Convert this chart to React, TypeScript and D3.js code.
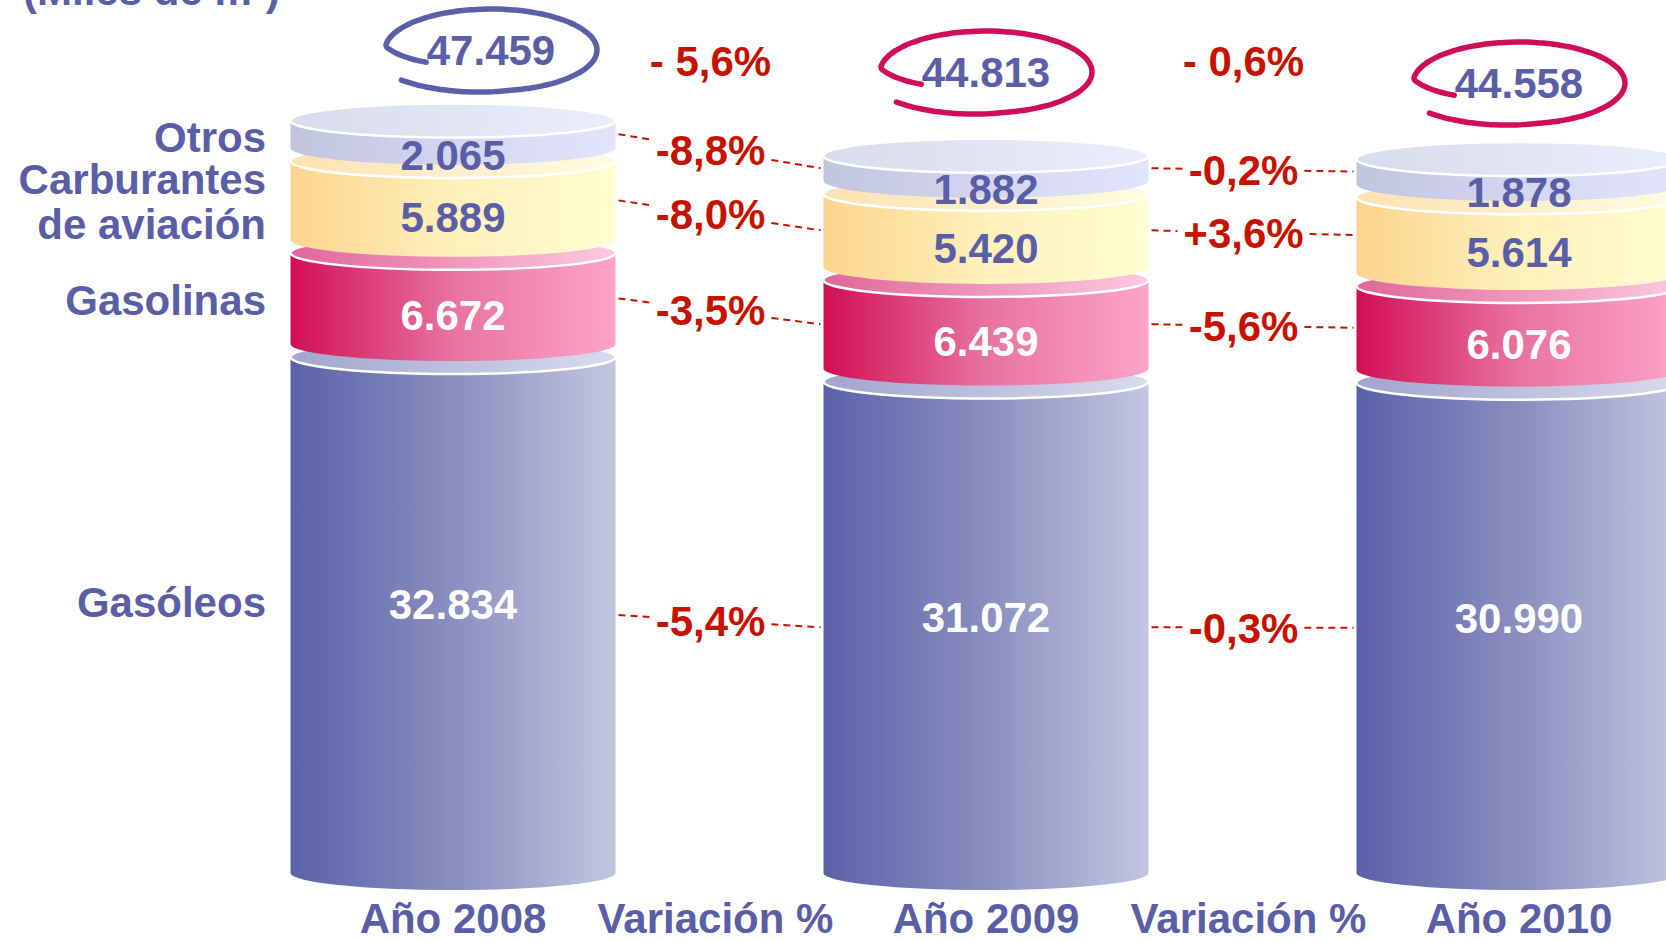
import { useEffect, useRef } from 'react'
import * as d3 from 'd3'

// miles de m3
const years = ['Año 2008', 'Año 2009', 'Año 2010']
const categories = ['Gasóleos', 'Gasolinas', 'Carburantes de aviación', 'Otros']
const gasoleos = [32834, 31072, 30990]
const gasolinas = [6672, 6439, 6076]
const carburantes = [5889, 5420, 5614]
const otros = [2065, 1882, 1878]
const totals = [47459, 44813, 44558]
const totalChange = [-5.6, -0.6]
const change0809 = [-5.4, -3.5, -8.0, -8.8]
const change0910 = [-0.3, -5.6, 3.6, -0.2]
const columns = ['Año 2008', 'Variación % (1)', 'Año 2009', 'Variación % (2)', 'Año 2010']

const series = [gasoleos, gasolinas, carburantes, otros]
const changes = [change0809, change0910]

const bodyColors = [
  ['#5a61a8', '#8a8ebf', '#c3c6e1'],
  ['#d10f54', '#e8739f', '#fda4c8'],
  ['#fdd48e', '#fef0bb', '#fffdd2'],
  ['#c1c4df', '#d4d6f0', '#e3e4fb'],
]
const faceColors = [
  ['#a1a5cf', '#d8dbed'],
  ['#e0669a', '#fdc9df'],
  ['#fde2b3', '#fffce0'],
  ['#d9dbee', '#ecedfc'],
]
const labelColors = ['#ffffff', '#ffffff', '#5a5ea6', '#5a5ea6']
const BLUE = '#5a5ea6'
const RED = '#c81200'
const loopColors = ['#5a5fa8', '#cf0d58', '#cf0d58']
// hand placed annotation spots for the totals (dx from bar centre, y)
const totalSpots = [[38, 50], [0, 72], [0, 83]]

export default function App() {
  const svgRef = useRef<SVGSVGElement>(null)
  const width = 1666
  const height = 941

  useEffect(() => {
    if (!svgRef.current) return
    const svg = d3.select(svgRef.current)
    svg.selectAll('*').remove()

    const font = "'Liberation Sans', Arial, sans-serif"
    const fs = 42
    const baseY = 873
    const barW = 325
    const ry = 17
    const gap = 13

    const fmt = d3.formatLocale({ decimal: ',', thousands: '.', grouping: [3], currency: ['', '€'], minus: '-' })
    const fmtInt = fmt.format(',')
    const fmtPct = fmt.format('+.1f')
    const fmtAbs = fmt.format('.1f')

    const xScale = d3.scalePoint<string>().domain(columns).range([453, 1519])
    const hScale = d3.scalePow().exponent(0.88).domain([0, 50000]).range([0, 747])

    const defs = svg.append('defs')
    categories.forEach((_, j) => {
      const g = defs.append('linearGradient').attr('id', `body${j}`).attr('x1', 0).attr('x2', 1).attr('y1', 0).attr('y2', 0)
      bodyColors[j].forEach((c, k) => g.append('stop').attr('offset', k / (bodyColors[j].length - 1)).attr('stop-color', c))
      const f = defs.append('linearGradient').attr('id', `face${j}`).attr('x1', 0).attr('x2', 1).attr('y1', 0).attr('y2', 0)
      faceColors[j].forEach((c, k) => f.append('stop').attr('offset', k).attr('stop-color', c))
    })

    // segment geometry for every bar
    const geo = years.map((_, i) => {
      let cum = 0
      return series.map((s, j) => {
        const c0 = cum
        cum += s[i]
        const bottom = baseY - hScale(c0) - j * gap
        const top = baseY - hScale(cum) - j * gap
        return { bottom, top, mid: (top + bottom) / 2, h: bottom - top, value: s[i] }
      })
    })

    // title (cut at the top)
    svg.append('text')
      .attr('x', 23).attr('y', 5)
      .attr('font-family', font).attr('font-weight', 'bold').attr('font-size', fs)
      .attr('fill', BLUE)
      .text('(Miles de m³)')

    // category labels on the left
    categories.forEach((c, j) => {
      const s = geo[0][j]
      const y = s.mid + 4 - 0.033 * s.h
      const lines = c === 'Carburantes de aviación' ? ['Carburantes', 'de aviación'] : [c]
      lines.forEach((l, k) => {
        svg.append('text')
          .attr('x', 266)
          .attr('y', y + (k - (lines.length - 1) / 2) * 45 + fs * 0.36)
          .attr('text-anchor', 'end')
          .attr('font-family', font).attr('font-weight', 'bold').attr('font-size', fs)
          .attr('fill', BLUE)
          .text(l)
      })
    })

    // cylinders
    years.forEach((yr, i) => {
      const cx = xScale(yr)!
      const x0 = cx - barW / 2
      const x1 = cx + barW / 2
      const g = svg.append('g')
      geo[i].forEach((s, j) => {
        g.append('path')
          .attr('d', `M${x0},${s.top} L${x0},${s.bottom} A${barW / 2},${ry} 0 0 0 ${x1},${s.bottom} L${x1},${s.top} Z`)
          .attr('fill', `url(#body${j})`)
        g.append('ellipse')
          .attr('cx', cx).attr('cy', s.top)
          .attr('rx', barW / 2).attr('ry', ry)
          .attr('fill', `url(#face${j})`)
          .attr('stroke', '#ffffff').attr('stroke-width', 2.5)
      })
      geo[i].forEach((s, j) => {
        g.append('text')
          .attr('x', cx).attr('y', s.mid + 22 - 0.065 * s.h + fs * 0.36)
          .attr('text-anchor', 'middle')
          .attr('font-family', font).attr('font-weight', 'bold').attr('font-size', fs)
          .attr('fill', labelColors[j])
          .text(fmtInt(s.value))
      })

      // total with hand drawn loop
      const tx = cx + totalSpots[i][0]
      const ty = totalSpots[i][1]
      const rx = 106
      const lry = 41
      const pts: [number, number][] = d3.range(154, 500, 3).map(deg => {
        let r = 1
        if (deg < 185) r = 0.68 + ((deg - 154) / 31) * 0.32
        else if (deg > 440) r = 1 + ((deg - 440) / 59) * 0.12
        const a = (deg * Math.PI) / 180
        return [tx + rx * r * Math.cos(a), ty + lry * r * Math.sin(a)]
      })
      svg.append('path')
        .attr('d', d3.line().curve(d3.curveBasis)(pts))
        .attr('fill', 'none')
        .attr('stroke', loopColors[i]).attr('stroke-width', 5.5).attr('stroke-linecap', 'round')
      svg.append('text')
        .attr('x', tx).attr('y', ty + fs * 0.36)
        .attr('text-anchor', 'middle')
        .attr('font-family', font).attr('font-weight', 'bold').attr('font-size', fs)
        .attr('fill', BLUE)
        .text(fmtInt(totals[i]))
    })

    // variation labels and dashed connectors
    changes.forEach((ch, k) => {
      const colX = xScale(columns[2 * k + 1])! - 9
      const xA = xScale(years[k])! + barW / 2 + 3
      const xB = xScale(years[k + 1])! - barW / 2 - 3
      ch.forEach((v, j) => {
        const yA = geo[k][j].mid
        const yB = geo[k + 1][j].mid
        const yAt = (x: number) => yA + ((x - xA) / (xB - xA)) * (yB - yA)
        const ym = yAt(colX)
        const t = svg.append('text')
          .attr('x', colX).attr('y', ym + fs * 0.36)
          .attr('text-anchor', 'middle')
          .attr('font-family', font).attr('font-weight', 'bold').attr('font-size', fs)
          .attr('fill', RED)
          .text(fmtPct(v) + '%')
        const w = (t.node() as SVGTextElement).getComputedTextLength()
        const pieces = [[xA, colX - w / 2 - 6], [colX + w / 2 + 6, xB]]
        pieces.forEach(([a, b]) => {
          svg.append('line')
            .attr('x1', a).attr('y1', yAt(a)).attr('x2', b).attr('y2', yAt(b))
            .attr('stroke', RED).attr('stroke-width', 2).attr('stroke-dasharray', '7,5')
        })
      })
      // total change
      const tv = totalChange[k]
      svg.append('text')
        .attr('x', colX)
        .attr('y', 61 + fs * 0.36)
        .attr('text-anchor', 'middle')
        .attr('font-family', font).attr('font-weight', 'bold').attr('font-size', fs)
        .attr('fill', RED)
        .text(`${tv < 0 ? '-' : '+'} ${fmtAbs(Math.abs(tv))}%`)
    })

    // bottom labels
    columns.forEach(c => {
      svg.append('text')
        .attr('x', xScale(c)! - (c.startsWith('Variación') ? 4 : 0)).attr('y', 933)
        .attr('text-anchor', 'middle')
        .attr('font-family', font).attr('font-weight', 'bold').attr('font-size', fs)
        .attr('fill', BLUE)
        .text(c.startsWith('Variación') ? 'Variación %' : c)
    })
  }, [])

  return (
    <svg
      ref={svgRef}
      width={width}
      height={height}
      style={{ position: 'absolute', left: 0, top: 0, background: '#ffffff', display: 'block' }}
    />
  )
}
